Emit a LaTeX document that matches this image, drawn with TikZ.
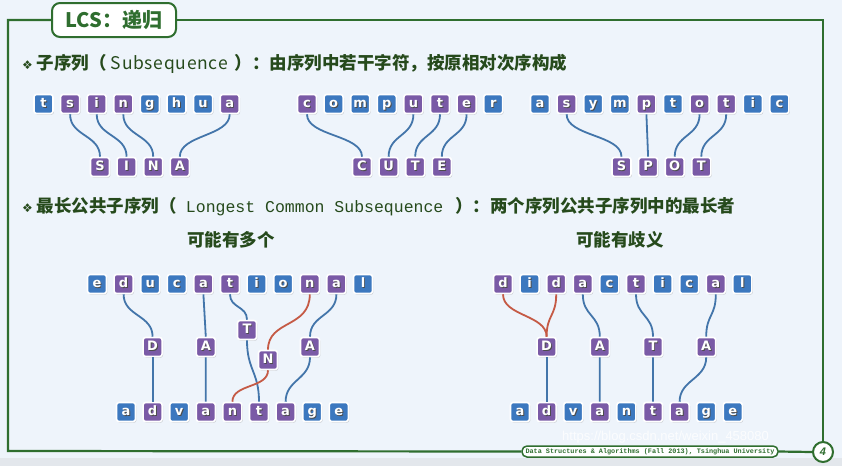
\documentclass[tikz,border=0pt]{standalone}
\usepackage{fontspec}
\setmainfont{Liberation Sans}
\newfontfamily\cjk{Noto Sans CJK SC}
\newfontfamily\cjkls{Noto Sans CJK SC}[LetterSpace=4]
\newfontfamily\mono{Liberation Mono}
\newfontfamily\tilefont{DejaVu Sans}
\newfontfamily\dvs{DejaVu Sans}
\usetikzlibrary{shadows}
\definecolor{bg}{HTML}{EEF4FB}
\definecolor{strip}{HTML}{E3E7EC}
\definecolor{frame}{HTML}{2F6E2F}
\definecolor{txt}{HTML}{264A1C}
\definecolor{tb}{HTML}{3C78BF}
\definecolor{tp}{HTML}{7A5AA6}
\definecolor{lb}{HTML}{4375AA}
\definecolor{lr}{HTML}{C55A45}
\newcommand\tlet[1]{\rlap{\kern0.9pt\raisebox{-0.9pt}{\color{black!70}#1}}{\color{white}#1}}
\newcommand\word[4]{%
  \foreach \ch/\st [count=\i] in {#4} \node[\st] (#1\i) at ({#2+(\i-1)*26.6},#3) {\tlet{\ch}};}
\newcommand\ccurve[3][conn]{\draw[#1] (#2.south) .. controls +(0,22) and +(0,-22) .. (#3.north);}
\newcommand\cstraight[3][conn]{\draw[#1] (#2.south) -- (#3.north);}
\tikzset{
  tile/.style={minimum size=19pt, inner sep=0pt, rounded corners=2.5pt, draw=white, line width=1.6pt,
    text height=9.6pt, text depth=2.6pt, font=\tilefont\bfseries\fontsize{13}{13}\selectfont,
    drop shadow={shadow xshift=0.9pt, shadow yshift=-1.2pt, opacity=0.35}},
  B/.style={tile, fill=tb},
  P/.style={tile, fill=tp},
  conn/.style={line width=1.8pt, lb},
  connr/.style={line width=1.8pt, lr},
  body/.style={text=txt, font=\cjk\bfseries\fontsize{17.5}{19}\selectfont, inner sep=0pt},
}
\begin{document}
\begin{tikzpicture}[x=1pt,y=-1pt]
\useasboundingbox (0,0) rectangle (842,466);
\fill[bg] (0,0) rectangle (842,458);
\fill[strip] (0,458) rectangle (842,466);

% title and frame
\node[draw=frame, line width=2pt, fill=white, rounded corners=8pt, minimum width=124pt,
  minimum height=34pt, inner sep=0pt, text=frame, font=\cjk\bfseries\fontsize{20}{22}\selectfont]
  (title) at (114,20) {LCS：递归};
\node[draw=frame, line width=1.5pt, rounded corners=5pt, fill=white, minimum width=256pt,
  minimum height=11pt, inner sep=0pt, text=frame, font=\mono\bfseries\fontsize{6.8}{7}\selectfont]
  (foot) at (650,451.5) {Data Structures \& Algorithms (Fall 2013), Tsinghua University};
\node[text=white, opacity=0.8, font=\fontsize{13}{13}\selectfont, anchor=west, inner sep=0pt]
  (wm) at (562,437) {https://blog.csdn.net/weixin\_458080};
\node[circle, draw=frame, line width=2pt, fill=white, minimum size=20pt, inner sep=0pt,
  text=frame, font=\bfseries\itshape\fontsize{11}{11}\selectfont] (pg) at (823,452) {4};
\draw[frame, line width=2.2pt] (title.west) -- (8,20) -- (8,451) -- (foot.west);
\draw[frame, line width=2.2pt] (title.east) -- (823,20) -- (pg.north);
\draw[frame, line width=2.2pt] (foot.east) -- (pg.west);

% texts
\node[body, anchor=west] (l1) at (22,64) {{\dvs\fontsize{12}{12}\selectfont ❖} 子序列（ {\cjkls\mdseries Subsequence}\hspace{3pt} ）：由序列中若干字符，按原相对次序构成};
\node[body, anchor=west] (l2) at (22,207) {{\dvs\fontsize{12}{12}\selectfont ❖} 最长公共子序列（\hspace{9pt}{\mono\mdseries\fontsize{16.5}{18}\selectfont Longest Common Subsequence}\hspace{12pt}）：两个序列公共子序列中的最长者};
\node[body] (s1) at (231,240) {可能有多个};
\node[body] (s2) at (620,240) {可能有歧义};

% row 1
\word{ts}{43.5}{104}{t/B,s/P,i/P,n/P,g/B,h/B,u/B,a/P}
\word{SI}{100}{167}{S/P,I/P,N/P,A/P}
\word{co}{307}{104}{c/P,o/B,m/B,p/B,u/P,t/P,e/P,r/B}
\word{CU}{362}{167}{C/P,U/P,T/P,E/P}
\word{as}{540}{104}{a/B,s/P,y/B,m/B,p/P,t/B,o/P,t/P,i/B,c/B}
\word{SP}{621.5}{167}{S/P,P/P,O/P,T/P}
\ccurve{ts2}{SI1}\ccurve{ts3}{SI2}\ccurve{ts4}{SI3}\ccurve{ts8}{SI4}
\ccurve{co1}{CU1}\ccurve{co5}{CU2}\ccurve{co6}{CU3}\ccurve{co7}{CU4}
\ccurve{as2}{SP1}\cstraight{as5}{SP2}\ccurve{as7}{SP3}\ccurve{as8}{SP4}

% bottom left
\word{ed}{97}{284}{e/B,d/P,u/B,c/B,a/P,t/P,i/B,o/B,n/P,a/P,l/B}
\word{av}{126}{412}{a/B,d/P,v/B,a/P,n/P,t/P,a/P,g/B,e/B}
\node[P] (mD) at (152.6,347) {\tlet{D}};
\node[P] (mA) at (205.8,347) {\tlet{A}};
\node[P] (mT) at (247,330) {\tlet{T}};
\node[P] (mN) at (268,360) {\tlet{N}};
\node[P] (mA2) at (310,347) {\tlet{A}};
\ccurve{ed2}{mD}\cstraight{mD}{av2}
\cstraight{ed5}{mA}\cstraight{mA}{av4}
\draw[conn] (ed6.south) .. controls +(0,14) and +(0,-14) .. (mT.north);
\draw[conn] (mT.south) .. controls +(0,30) and +(0,-30) .. (av6.north);
\draw[connr] (ed9.south) .. controls +(0,34) and +(0,-30) .. (mN.north);
\draw[connr] (mN.south) .. controls +(0,18) and +(0,-18) .. (av5.north);
\ccurve{ed10}{mA2}\ccurve{mA2}{av7}

% bottom right
\word{di}{503}{284}{d/P,i/B,d/P,a/P,c/B,t/P,i/B,c/B,a/P,l/B}
\word{bv}{520}{412}{a/B,d/P,v/B,a/P,n/B,t/P,a/P,g/B,e/B}
\node[P] (rD) at (546.6,347) {\tlet{D}};
\node[P] (rA) at (599.8,347) {\tlet{A}};
\node[P] (rT) at (653,347) {\tlet{T}};
\node[P] (rA2) at (706.2,347) {\tlet{A}};
\ccurve[connr]{di1}{rD}\ccurve[connr]{di3}{rD}
\ccurve{di4}{rA}\ccurve{di6}{rT}\ccurve{di9}{rA2}
\cstraight{rD}{bv2}\cstraight{rA}{bv4}\cstraight{rT}{bv6}\ccurve{rA2}{bv7}
\end{tikzpicture}
\end{document}
